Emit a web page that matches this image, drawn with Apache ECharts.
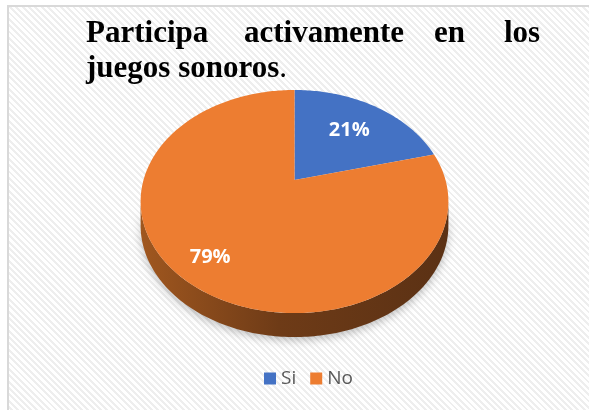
<!DOCTYPE html>
<html>
<head>
<meta charset="utf-8">
<script src="https://cdn.jsdelivr.net/npm/echarts@6/dist/echarts.min.js"></script>
<style>
  html, body { margin: 0; padding: 0; background: #fff; }
  .frame {
    position: absolute; left: 7px; top: 5px; width: 582px; height: 405px;
    border-left: 2px solid #d9d9d9; border-top: 2px solid #d9d9d9;
    background: repeating-linear-gradient(45deg, #ffffff 0px, #ffffff 2.5px, #eeeeee 2.5px, #eeeeee 4.5px);
  }
  #chart { position: absolute; left: 0; top: 0; width: 589px; height: 410px; }
</style>
</head>
<body>
<div class="frame"></div>
<div id="chart"></div>
<script>
// data
const categories = ['Si', 'No']
const values = [21, 79]
const titleLine1 = ['Participa', 'activamente', 'en', 'los']
const titleLine2 = 'juegos sonoros'

// styles / geometry
const SLICE_COLORS = ['#4472C4', '#ED7D31']
const SIDE_COLORS = [
  ['#2f4f8a', '#22396a'],
  ['#a0571f', '#5b3114'],
]
const CX = 294.5
const CY = 180
const RX = 151
const RY = 107.4
const PERSP = 0.193
const DEPTH = 24
const LABEL_R = [0.65, 0.8]
const WORD_X = [86, 244, 434, 504]

const chart = echarts.init(document.getElementById('chart'), null, { renderer: 'canvas' })

const proj = (theta, r) => {
  const X = r * Math.sin(theta)
  const Z = r * Math.cos(theta)
  const w = 1 + PERSP * Z
  return [CX + RX * X / w, CY - RY * Z / w]
}

const total = values.reduce((a, b) => a + b, 0)
const frontStart = Math.acos(-PERSP)
const frontEnd = Math.PI * 2 - frontStart

const arcPoints = (a0, a1, r) => {
  const pts = []
  const steps = Math.max(2, Math.ceil((a1 - a0) / (Math.PI / 180)))
  for (let s = 0; s <= steps; s++) {
    pts.push(proj(a0 + (a1 - a0) * s / steps, r))
  }
  return pts
}

const renderSlice = (params, api) => {
  const i = params.seriesIndex
  let start = 0
  for (let j = 0; j < i; j++) start += values[j]
  const v = api.value(0)
  const a0 = start / total * Math.PI * 2
  const a1 = (start + v) / total * Math.PI * 2
  const children = []

  // side of the disc (front half only)
  const s0 = Math.max(a0, frontStart)
  const s1 = Math.min(a1, frontEnd)
  if (s1 > s0) {
    const rim = arcPoints(s0, s1, 1)
    const low = rim.map(p => [p[0], p[1] + DEPTH]).reverse()
    children.push({
      type: 'polygon',
      z2: 1,
      shape: { points: rim.concat(low) },
      style: {
        fill: new echarts.graphic.LinearGradient(0, 0, 1, 0, [
          { offset: 0, color: SIDE_COLORS[i][0] },
          { offset: 0.45, color: '#6e3b17' },
          { offset: 1, color: SIDE_COLORS[i][1] },
        ]),
        shadowBlur: 8,
        shadowOffsetY: 3,
        shadowColor: 'rgba(0,0,0,0.25)',
      },
    })
  }

  // top face
  const top = [proj(0, 0)].concat(arcPoints(a0, a1, 1))
  children.push({
    type: 'polygon',
    z2: 10,
    shape: { points: top },
    style: { fill: SLICE_COLORS[i] },
  })

  const mid = (a0 + a1) / 2
  const lp = proj(mid, LABEL_R[i])
  children.push({
    type: 'text',
    z2: 20,
    x: lp[0],
    y: lp[1],
    style: {
      text: Math.round(v / total * 100) + '%',
      fill: '#ffffff',
      font: 'bold 20px "Open Sans", sans-serif',
      align: 'center',
      verticalAlign: 'middle',
    },
  })

  return { type: 'group', children }
}

const titleFont = {
  fontFamily: '"Liberation Serif", "Times New Roman", serif',
  fontWeight: 'bold',
  fontSize: 31,
  color: '#000000',
}

const titles = titleLine1.map((word, idx) => ({
  text: word,
  left: WORD_X[idx],
  top: 18,
  padding: 0,
  textStyle: titleFont,
}))
titles.push({
  text: '{b|' + titleLine2 + '}{n|.}',
  left: WORD_X[0],
  top: 53,
  padding: 0,
  textStyle: {
    rich: {
      b: titleFont,
      n: { ...titleFont, fontWeight: 'normal' },
    },
  },
})

const option = {
  animation: false,
  backgroundColor: 'transparent',
  title: titles,
  legend: {
    data: categories,
    top: 364,
    left: 259,
    icon: 'rect',
    itemWidth: 12,
    itemHeight: 12,
    itemGap: 14,
    textStyle: {
      color: '#595959',
      fontSize: 19,
      fontFamily: '"Open Sans", sans-serif',
    },
  },
  series: categories.map((name, i) => ({
    name,
    type: 'custom',
    coordinateSystem: 'none',
    itemStyle: { color: SLICE_COLORS[i] },
    renderItem: renderSlice,
    data: [values[i]],
  })),
}

chart.setOption(option)
</script>
</body>
</html>
